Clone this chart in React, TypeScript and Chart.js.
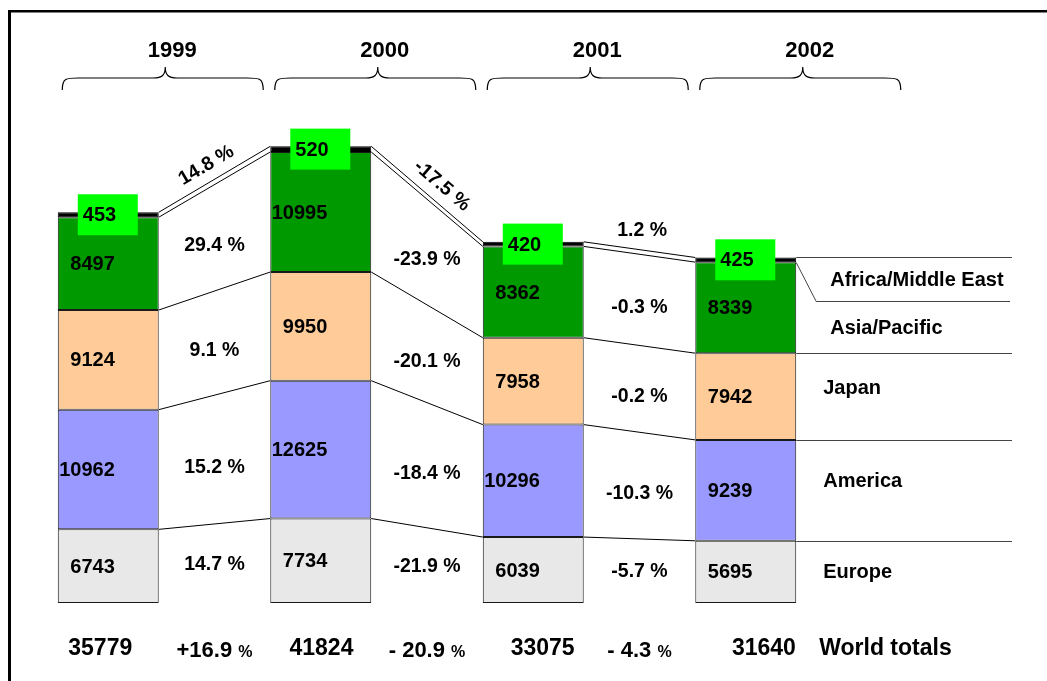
import React, { useEffect, useRef } from "react";
import { Chart, registerables } from "chart.js";
Chart.register(...registerables);

const years = ["1999", "2000", "2001", "2002"];
const regions = ["Europe", "America", "Japan", "Asia/Pacific", "Africa/Middle East"];
const europe = [6743, 7734, 6039, 5695];
const america = [10962, 12625, 10296, 9239];
const japan = [9124, 9950, 7958, 7942];
const asiaPacific = [8497, 10995, 8362, 8339];
const africaMiddleEast = [453, 520, 420, 425];
const regionColors = ["#E8E8E8", "#9999FF", "#FFCC99", "#009900", "#000000"];

const europeGrowth = ["14.7 %", "-21.9 %", "-5.7 %"];
const americaGrowth = ["15.2 %", "-18.4 %", "-10.3 %"];
const japanGrowth = ["9.1 %", "-20.1 %", "-0.2 %"];
const asiaGrowth = ["29.4 %", "-23.9 %", "-0.3 %"];
const africaGrowth = ["14.8 %", "-17.5 %", "1.2 %"];
const totalGrowth = ["+16.9", "- 20.9", "- 4.3"];
const totalsLabel = "World totals";

const series = [europe, america, japan, asiaPacific, africaMiddleEast];
const growth = [europeGrowth, americaGrowth, japanGrowth, asiaGrowth];

const FONT = '"Liberation Sans", Arial, Helvetica, sans-serif';

const overlay = {
  id: "overlay",
  afterDatasetsDraw(chart: any) {
    const ctx: CanvasRenderingContext2D = chart.ctx;
    const el = (d: number, i: number) => chart.getDatasetMeta(d).data[i] as any;
    const n = years.length;
    const left = (i: number) => el(0, i).x - el(0, i).width / 2;
    const right = (i: number) => el(0, i).x + el(0, i).width / 2;
    const cx = (i: number) => el(0, i).x;
    const topY = (d: number, i: number) => el(d, i).y;
    const mid = (d: number, i: number) => (el(d, i).y + el(d, i).base) / 2;
    const W = chart.width;

    ctx.save();
    // frame
    ctx.fillStyle = "#000";
    ctx.fillRect(8, 10, 3, chart.height);
    ctx.fillRect(8, 10, W, 2.5);

    // connecting lines
    ctx.strokeStyle = "#000";
    ctx.lineWidth = 1;
    for (let d = 0; d < series.length; d++) {
      for (let i = 0; i < n - 1; i++) {
        ctx.beginPath();
        ctx.moveTo(right(i), topY(d, i));
        ctx.lineTo(left(i + 1), topY(d, i + 1));
        ctx.stroke();
      }
    }
    // extension lines at last bar
    const last = n - 1;
    const extEnd = 1012;
    ctx.strokeStyle = "#444";
    const diagDrop = 39;
    for (let d = 0; d < series.length; d++) {
      const y = Math.round(topY(d, last)) + 0.5;
      ctx.beginPath();
      if (d === 3) {
        ctx.moveTo(right(last), y);
        ctx.lineTo(right(last) + 20, y + diagDrop);
        ctx.lineTo(extEnd - 2, y + diagDrop);
      } else {
        ctx.moveTo(right(last), y);
        ctx.lineTo(extEnd, y);
      }
      ctx.stroke();
    }

    ctx.fillStyle = "#000";
    ctx.textBaseline = "middle";
    // in-bar value labels
    ctx.font = `bold 20px ${FONT}`;
    ctx.textAlign = "right";
    for (let d = 0; d < 4; d++) {
      for (let i = 0; i < n; i++) {
        ctx.fillText(String(series[d][i]), left(i) + 57, mid(d, i) + 1);
      }
    }
    // green boxes for Africa/Middle East
    for (let i = 0; i < n; i++) {
      const yc = mid(4, i);
      ctx.fillStyle = "#00FF00";
      ctx.fillRect(left(i) + 20, yc - 20.5, 60, 41);
      ctx.fillStyle = "#000";
      ctx.textAlign = "left";
      ctx.fillText(String(africaMiddleEast[i]), left(i) + 25, yc + 1);
    }

    // growth labels between bars
    ctx.font = `bold 19.5px ${FONT}`;
    ctx.textAlign = "center";
    const nudge = [1, 8, 8, 8];
    for (let d = 0; d < 4; d++) {
      for (let i = 0; i < n - 1; i++) {
        const x = (right(i) + left(i + 1)) / 2;
        const y = (mid(d, i) + mid(d, i + 1)) / 2 + nudge[d];
        ctx.fillText(growth[d][i], x, y);
      }
    }
    // africa growth along the double line
    for (let i = 0; i < n - 1; i++) {
      const x1 = right(i), y1 = topY(4, i), x2 = left(i + 1), y2 = topY(4, i + 1);
      const a = Math.atan2(y2 - y1, x2 - x1);
      const nx = Math.sin(a), ny = -Math.cos(a);
      const rotated = Math.abs(a) > 0.3;
      const off = rotated ? 16 : 19;
      const t = rotated && a > 0 ? 0.54 : 0.5;
      const px = x1 + (x2 - x1) * t + nx * off;
      const py = y1 + (y2 - y1) * t + ny * off;
      ctx.save();
      ctx.translate(px, py);
      if (rotated) ctx.rotate(a);
      ctx.fillText(africaGrowth[i], 0, 0);
      ctx.restore();
    }

    // region labels on the right
    ctx.font = `bold 20px ${FONT}`;
    ctx.textAlign = "left";
    const rl = right(last);
    const labelY = [
      mid(0, last),
      mid(1, last) - 10,
      mid(2, last) - 9,
      (topY(3, last) + diagDrop + el(3, last).base) / 2,
      (topY(4, last) + topY(3, last) + diagDrop) / 2,
    ];
    for (let d = 0; d < regions.length; d++) {
      ctx.fillText(regions[d], rl + (d >= 3 ? 34 : 27), labelY[d] + 1);
    }

    // year braces
    ctx.strokeStyle = "#000";
    ctx.lineWidth = 1.2;
    for (let i = 0; i < n; i++) {
      const tip = cx(i) + 57;
      const L = tip - 103, R = tip + 98;
      const yf = 78, yb = 90, yt = 67;
      ctx.beginPath();
      ctx.moveTo(L, yb);
      ctx.bezierCurveTo(L, yf, L + 4, yf, L + 16, yf);
      ctx.lineTo(tip - 12, yf);
      ctx.bezierCurveTo(tip - 3, yf, tip, yf - 3, tip, yt);
      ctx.bezierCurveTo(tip, yf - 3, tip + 3, yf, tip + 12, yf);
      ctx.lineTo(R - 16, yf);
      ctx.bezierCurveTo(R - 4, yf, R, yf, R, yb);
      ctx.stroke();
      ctx.font = `bold 22px ${FONT}`;
      ctx.textAlign = "center";
      ctx.fillText(years[i], tip + 7, 51);
    }

    // totals
    ctx.font = `bold 23px ${FONT}`;
    ctx.textAlign = "center";
    const totalsY = 649;
    const totalsSpread = 1.041;
    for (let i = 0; i < n; i++) {
      let t = 0;
      for (let d = 0; d < series.length; d++) t += series[d][i];
      ctx.fillText(String(t), cx(0) - 8 + (cx(i) - cx(0)) * totalsSpread, totalsY);
    }
    ctx.textBaseline = "alphabetic";
    for (let i = 0; i < n - 1; i++) {
      const x = (right(i) + left(i + 1)) / 2;
      ctx.font = `bold 22px ${FONT}`;
      const w1 = ctx.measureText(totalGrowth[i] + " ").width;
      ctx.font = `bold 16px ${FONT}`;
      const w2 = ctx.measureText("%").width;
      const start = x - (w1 + w2) / 2;
      ctx.textAlign = "left";
      ctx.font = `bold 22px ${FONT}`;
      ctx.fillText(totalGrowth[i] + " ", start, totalsY + 8);
      ctx.font = `bold 16px ${FONT}`;
      ctx.fillText("%", start + w1, totalsY + 8);
    }
    ctx.textBaseline = "middle";
    ctx.font = `bold 23px ${FONT}`;
    ctx.textAlign = "left";
    ctx.fillText(totalsLabel, rl + 23, totalsY);

    ctx.restore();
  },
};

export default function App() {
  const ref = useRef<HTMLCanvasElement | null>(null);
  useEffect(() => {
    if (!ref.current) return;
    const chart = new Chart(ref.current, {
      type: "bar",
      data: {
        labels: years,
        datasets: series.map((s, d) => ({
          label: regions[d],
          data: s,
          backgroundColor: regionColors[d],
          borderColor: d === 4 ? "#000" : "#1a1a1a",
          borderWidth: 1,
          borderSkipped: false,
          categoryPercentage: 1,
          barPercentage: 0.475,
        })),
      },
      options: {
        animation: false,
        responsive: false,
        events: [],
        layout: { padding: { left: 2, right: 195, top: 57, bottom: 78 } },
        plugins: { legend: { display: false }, tooltip: { enabled: false } },
        scales: {
          x: { display: false, stacked: true },
          y: { display: false, stacked: true, min: 0, max: 50000 },
        },
      },
      plugins: [overlay],
    });
    return () => chart.destroy();
  }, []);
  return (
    <div style={{ position: "fixed", left: 0, top: 0, width: 1047, height: 681, background: "#fff" }}>
      <canvas ref={ref} width={1047} height={681} />
    </div>
  );
}
